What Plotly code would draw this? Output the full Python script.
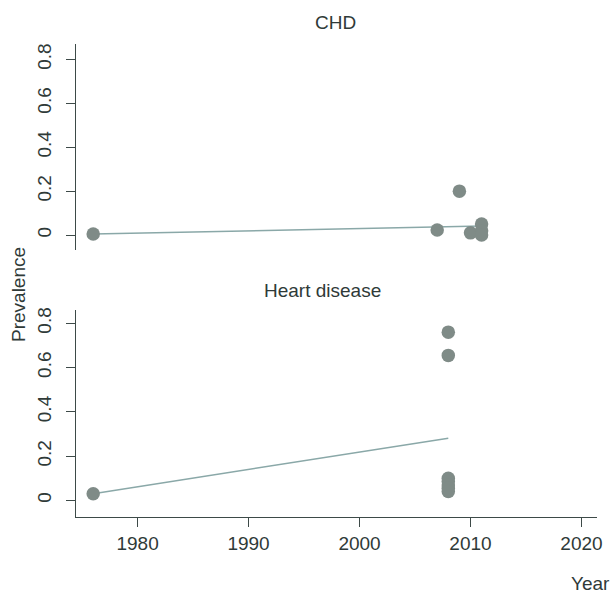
import plotly.graph_objects as go
from plotly.subplots import make_subplots

# ---- data ----
chd_years = [1976, 2007, 2009, 2010, 2011, 2011, 2011]
chd_prev = [0.005, 0.023, 0.20, 0.01, 0.05, 0.02, 0.0]
chd_fit_years = [1976, 2011]
chd_fit_prev = [0.005, 0.041]

hd_years = [1976, 2008, 2008, 2008, 2008, 2008, 2008, 2008]
hd_prev = [0.03, 0.76, 0.655, 0.10, 0.085, 0.07, 0.055, 0.04]
hd_fit_years = [1976, 2008]
hd_fit_prev = [0.03, 0.281]

x_ticks = [1980, 1990, 2000, 2010, 2020]
y_ticks = [0, 0.2, 0.4, 0.6, 0.8]
y_tick_text = ["0", "0.2", "0.4", "0.6", "0.8"]

W, H = 615, 597
FONT = "Liberation Sans, Arial, Helvetica, sans-serif"
TXT = "#2f3a38"
AX = "#3d4a48"
PT = "#7f8b87"
LN = "#8aa8a8"

fig = make_subplots(rows=2, cols=1)

fig.add_trace(go.Scatter(x=chd_fit_years, y=chd_fit_prev, mode="lines",
                         line=dict(color=LN, width=1.5), showlegend=False), row=1, col=1)
fig.add_trace(go.Scatter(x=chd_years, y=chd_prev, mode="markers",
                         marker=dict(color=PT, size=13.5, line=dict(width=0)),
                         showlegend=False), row=1, col=1)
fig.add_trace(go.Scatter(x=hd_fit_years, y=hd_fit_prev, mode="lines",
                         line=dict(color=LN, width=1.5), showlegend=False), row=2, col=1)
fig.add_trace(go.Scatter(x=hd_years, y=hd_prev, mode="markers",
                         marker=dict(color=PT, size=13.5, line=dict(width=0)),
                         showlegend=False), row=2, col=1)

xdom = [76 / W, 597 / W]
ydom1 = [1 - 250 / H, 1 - 44 / H]
ydom2 = [1 - 517 / H, 1 - 310 / H]
xrange_ = [1974.45, 2021.4]

fig.update_layout(
    width=W, height=H,
    margin=dict(l=0, r=0, t=0, b=0),
    paper_bgcolor="white", plot_bgcolor="white",
    font=dict(family=FONT, size=19, color=TXT),
    xaxis=dict(domain=xdom, range=xrange_, visible=False, anchor="y"),
    yaxis=dict(domain=ydom1, range=[-0.068, 0.87], tickvals=y_ticks, ticktext=y_tick_text,
               tickangle=-90, ticks="outside", ticklen=9, tickcolor=AX, showline=True,
               linecolor=AX, linewidth=1, showgrid=False, zeroline=False, automargin=False,
               ticklabelstandoff=7,
               tickfont=dict(size=19, color=TXT), anchor="x"),
    xaxis2=dict(domain=xdom, range=xrange_, tickvals=x_ticks, ticks="outside", ticklen=9,
                tickcolor=AX, showline=True, linecolor=AX, linewidth=1, showgrid=False,
                zeroline=False, automargin=False, tickfont=dict(size=19, color=TXT), anchor="y2"),
    yaxis2=dict(domain=ydom2, range=[-0.075, 0.86], tickvals=y_ticks, ticktext=y_tick_text,
                tickangle=-90, ticks="outside", ticklen=9, tickcolor=AX, showline=True,
                linecolor=AX, linewidth=1, showgrid=False, zeroline=False, automargin=False,
                ticklabelstandoff=7,
                tickfont=dict(size=19, color=TXT), anchor="x2"),
    annotations=[
        dict(text="CHD", x=335 / W, y=1 - 22.7 / H, xref="paper", yref="paper",
             showarrow=False, xanchor="center", yanchor="middle", font=dict(size=19, color=TXT)),
        dict(text="Heart disease", x=322.5 / W, y=1 - 290 / H, xref="paper", yref="paper",
             showarrow=False, xanchor="center", yanchor="middle", font=dict(size=19, color=TXT)),
        dict(text="Prevalence", x=18 / W, y=1 - 295 / H, xref="paper", yref="paper",
             showarrow=False, xanchor="center", yanchor="middle", textangle=-90,
             font=dict(size=19, color=TXT)),
        dict(text="Year", x=612 / W, y=1 - 583 / H, xref="paper", yref="paper",
             showarrow=False, xanchor="right", yanchor="middle", font=dict(size=19, color=TXT)),
    ],
)

fig.write_html("out.html")
